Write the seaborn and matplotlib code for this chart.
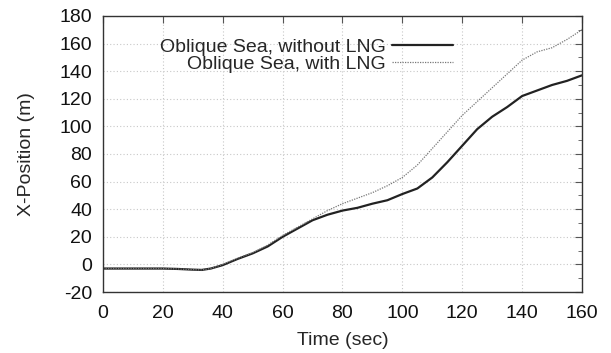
import numpy as np
import pandas as pd
import matplotlib
matplotlib.use("Agg")
import matplotlib.pyplot as plt
import seaborn as sns
from matplotlib.ticker import MultipleLocator

time_without = [0, 5, 10, 15, 20, 25, 30, 33, 36, 40, 45, 50, 55, 60, 65, 70, 75, 80,
                85, 90, 95, 100, 105, 110, 115, 120, 125, 130, 135, 140, 145, 150, 155, 160]
pos_without = [-3, -3, -3, -3, -3, -3.3, -3.8, -4, -3, -0.5, 4, 8, 13, 20, 26, 32, 36, 39,
               41, 44, 46.5, 51, 55, 63, 74, 86, 98, 107, 114, 122, 126, 130, 133, 137]

time_with = [0, 5, 10, 15, 20, 25, 30, 33, 36, 40, 45, 50, 55, 60, 65, 70, 75, 80,
             85, 90, 95, 100, 105, 110, 115, 120, 125, 130, 135, 140, 145, 150, 155, 160]
pos_with = [-3, -3, -3, -3, -3, -3.3, -3.8, -4, -3, 0, 4.5, 8.5, 14, 21, 27, 33, 39, 44,
            48, 52, 57, 63, 72, 84, 96, 108, 118, 128, 138, 148, 154, 157, 163, 170]

label_without = "Oblique Sea, without LNG"
label_with = "Oblique Sea, with LNG"

df = pd.concat([
    pd.DataFrame({"Time": time_without, "Pos": pos_without, "Case": label_without}),
    pd.DataFrame({"Time": time_with, "Pos": pos_with, "Case": label_with}),
])

sns.set_style("white")
plt.rcParams['font.family'] = ['Liberation Sans', 'DejaVu Sans']
plt.rcParams['axes.unicode_minus'] = False

fig = plt.figure(figsize=(6.11, 3.53), dpi=100)
ax = fig.add_axes([0.1686, 0.1728, 0.9525 - 0.1686, 0.9547 - 0.1728])

sns.lineplot(data=df, x="Time", y="Pos", hue="Case", style="Case",
             palette={label_without: "#222222", label_with: "#787878"},
             dashes={label_without: "", label_with: (1, 1)},
             ax=ax, legend=False)
lines = ax.get_lines()
lines[0].set_linewidth(1.6)
lines[1].set_linewidth(0.9)

ax.set_xlim(0, 160)
ax.set_ylim(-20, 180)
ax.xaxis.set_major_locator(MultipleLocator(20))
ax.yaxis.set_major_locator(MultipleLocator(20))
ax.yaxis.set_minor_locator(MultipleLocator(10))
ax.grid(True, which="major", linestyle=(0, (1, 2)), color="#c8c8c8", linewidth=0.8)
ax.tick_params(which="both", direction="in", top=True, right=True, labelsize=14,
               color="#555555", labelcolor="#111111")
ax.tick_params(axis="x", which="major", pad=9)
ax.tick_params(axis="y", which="major", pad=8)
ax.tick_params(which="major", length=5)
ax.tick_params(which="minor", length=3)
for s in ax.spines.values():
    s.set_color("#333333")
    s.set_linewidth(1.0)

ax.set_xlabel("Time (sec)", fontsize=14, va="center")
ax.set_ylabel("X-Position (m)", fontsize=14, va="center")
ax.xaxis.set_label_coords(0.5, -0.174)
ax.yaxis.set_label_coords(-0.160, 0.5)

ax.legend(lines, [label_without, label_with], loc="upper right",
          bbox_to_anchor=(0.731, 0.92), frameon=False, markerfirst=False,
          fontsize=14, handlelength=3.15, handletextpad=0.3, labelspacing=0.0,
          borderaxespad=0, borderpad=0)

fig.savefig("out.png", dpi=100)
